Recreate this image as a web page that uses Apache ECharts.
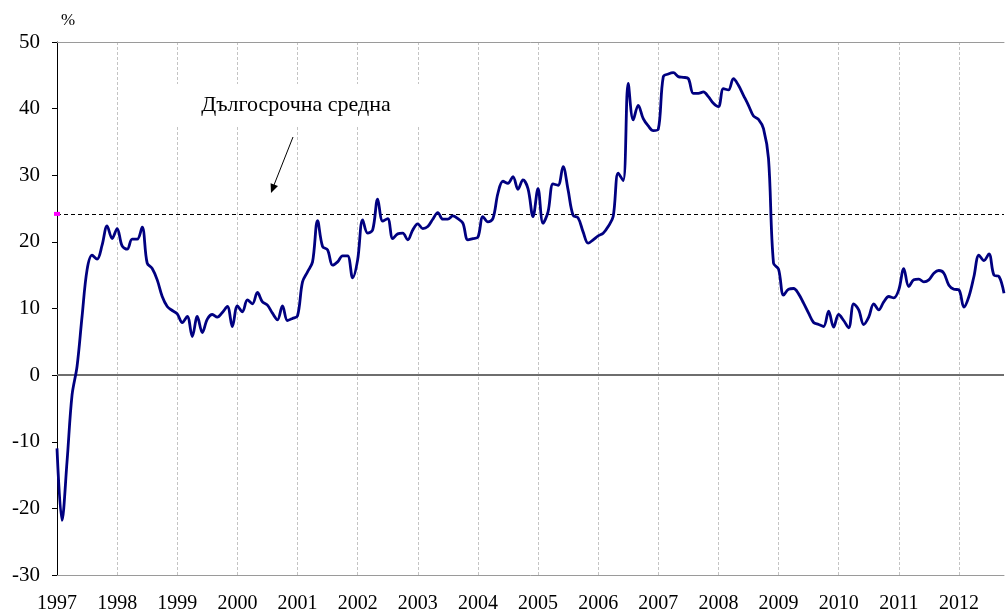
<!DOCTYPE html>
<html>
<head>
<meta charset="utf-8">
<script src="https://cdn.jsdelivr.net/npm/echarts@6/dist/echarts.min.js"></script>
<style>
html,body{margin:0;padding:0;background:#fff;}
#chart{width:1006px;height:614px;}
</style>
</head>
<body>
<div id="chart"></div>
<script>
// Monthly data, Jan 1997 – Oct 2012
const startYear = 1997;
const values = [
 -11.0,-21.8,-13.0,-3.0,1.3,8.8,15.8,18.0,17.4,19.5,22.4,20.5,
 22.0,19.4,18.9,20.4,20.4,22.2,16.8,16.0,14.3,11.8,10.3,9.7,
 9.2,7.9,8.8,5.8,8.8,6.4,8.4,9.1,8.7,9.4,10.3,7.3,
 10.4,9.5,11.3,10.7,12.4,11.0,10.5,9.3,8.3,10.4,8.2,8.5,
 8.9,14.0,15.5,17.0,23.2,19.3,18.8,16.5,17.0,17.9,17.9,14.6,
 17.3,23.3,21.3,21.8,26.4,23.1,23.5,20.5,21.2,21.3,20.3,21.8,
 22.7,22.0,22.3,23.4,24.4,23.4,23.4,23.9,23.5,22.8,20.3,20.5,
 20.7,23.8,23.0,23.5,27.3,29.1,28.8,29.8,27.9,29.3,28.0,23.8,
 28.0,22.8,24.5,28.7,28.5,31.3,27.8,24.0,23.6,21.5,19.8,20.3,
 20.9,21.3,22.3,23.8,30.3,29.2,43.8,38.3,40.5,38.5,37.4,36.7,
 36.9,44.8,45.2,45.4,44.8,44.7,44.5,42.3,42.3,42.5,41.8,40.8,
 40.3,43.0,42.8,44.5,43.5,42.0,40.5,38.9,38.4,37.0,32.5,16.8,
 15.9,12.0,12.9,13.0,12.2,10.8,9.3,7.9,7.6,7.3,9.6,7.2,
 9.1,8.2,7.1,10.7,9.8,7.6,8.7,10.7,9.8,11.0,11.8,11.6,
 12.8,16.0,13.3,14.3,14.4,14.0,14.3,15.3,15.7,15.3,13.5,12.9,
 12.8,10.2,11.8,14.8,18.0,17.2,18.2,15.0,14.8,12.3
];
const longTermAverage = 24.2;
const annotationText = 'Дългосрочна средна';
const yUnit = '%';

const months = [];
for (let i = 0; i < values.length; i++) {
  const y = startYear + Math.floor(i / 12);
  const m = (i % 12) + 1;
  months.push(y + '-' + (m < 10 ? '0' + m : m));
}

const serif = '"Liberation Serif", "Times New Roman", serif';
const chart = echarts.init(document.getElementById('chart'), null, {renderer: 'canvas'});
chart.setOption({
  animation: false,
  backgroundColor: '#ffffff',
  grid: {left: 57, right: 2, top: 42, bottom: 39, containLabel: false},
  xAxis: [{
    type: 'category',
    data: months,
    boundaryGap: false,
    axisLine: {show: true, onZero: false, lineStyle: {color: '#9a9a9a', width: 1}},
    axisTick: {show: false},
    axisLabel: {
      interval: 11,
      formatter: v => v.slice(0, 4),
      fontFamily: serif, fontSize: 20, color: '#000', margin: 19
    },
    splitLine: {show: true, interval: 11, lineStyle: {color: '#c4c4c4', type: [3, 2], width: 1}}
  }, {
    type: 'category',
    data: months,
    position: 'top',
    boundaryGap: false,
    axisLine: {show: true, onZero: false, lineStyle: {color: '#9a9a9a', width: 1}},
    axisTick: {show: false},
    axisLabel: {show: false},
    splitLine: {show: false}
  }],
  yAxis: {
    type: 'value',
    min: -30, max: 50, interval: 10,
    axisLine: {show: true, onZero: false, lineStyle: {color: '#000', width: 1}},
    axisTick: {show: true, inside: false, length: 5, lineStyle: {color: '#000'}},
    axisLabel: {fontFamily: serif, fontSize: 21, color: '#000', margin: 17},
    splitLine: {show: false}
  },
  series: [{
    type: 'line',
    data: values,
    smooth: 0.35,
    symbol: 'none',
    lineStyle: {color: '#000080', width: 2.8},
    z: 5,
    markLine: {
      silent: true,
      symbol: 'none',
      label: {show: false},
      data: [
        {yAxis: 0, lineStyle: {color: '#6e6e6e', width: 2, type: 'solid'}},
        {yAxis: longTermAverage, lineStyle: {color: '#000', width: 1, type: [4, 3]}}
      ]
    },
    markPoint: {
      silent: true,
      symbol: 'rect',
      symbolSize: [6, 4],
      itemStyle: {color: '#ff00ff'},
      label: {show: false},
      data: [{coord: [0, longTermAverage]}]
    }
  }],
  graphic: [
    {
      type: 'text', z: 100,
      style: {
        text: yUnit, x: 68, y: 21, textAlign: 'center', textVerticalAlign: 'middle',
        font: '17px ' + serif, fill: '#000'
      }
    },
    {
      type: 'text', z: 100,
      style: {
        text: annotationText, x: 296, y: 105, textAlign: 'center', textVerticalAlign: 'middle',
        font: '22px ' + serif, fill: '#000', backgroundColor: '#fff', padding: [10, 34]
      }
    },
    {
      type: 'line', z: 100,
      shape: {x1: 293, y1: 137, x2: 274, y2: 185},
      style: {stroke: '#000', lineWidth: 1}
    },
    {
      type: 'polygon', z: 100,
      shape: {points: [[271, 193], [278, 186.1], [270.6, 183.2]]},
      style: {fill: '#000'}
    }
  ]
});
</script>
</body>
</html>
